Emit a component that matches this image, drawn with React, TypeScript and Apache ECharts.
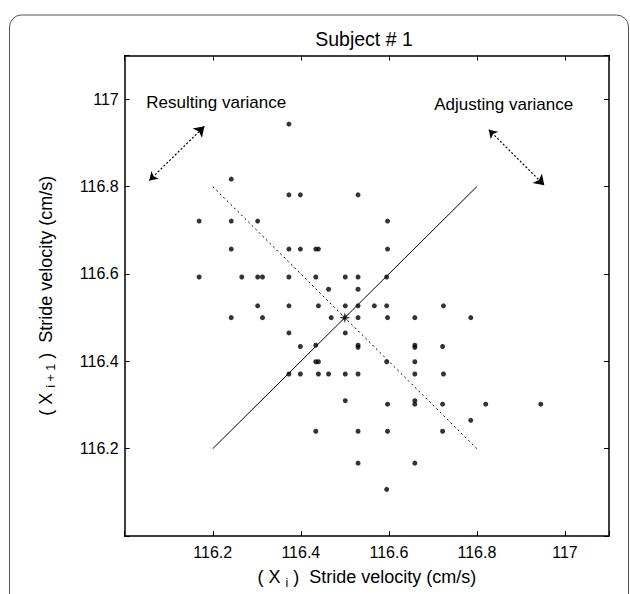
import React, { useEffect, useRef } from "react";
import * as echarts from "echarts";

// Stride velocity at stride i (x) and stride i+1 (y), cm/s
const strideXi: number[] = [
  116.373, 116.242, 116.373, 116.399, 116.530, 116.597, 116.169, 116.242, 116.302, 116.242,
  116.373, 116.399, 116.434, 116.440, 116.597, 116.169, 116.266, 116.302, 116.313, 116.373,
  116.434, 116.501, 116.530, 116.595, 116.463, 116.530, 116.302, 116.373, 116.440, 116.501,
  116.530, 116.567, 116.595, 116.724, 116.242, 116.313, 116.469, 116.530, 116.597, 116.659,
  116.786, 116.373, 116.501, 116.399, 116.434, 116.530, 116.530, 116.659, 116.659, 116.722,
  116.434, 116.440, 116.595, 116.659, 116.373, 116.399, 116.440, 116.463, 116.501, 116.530,
  116.659, 116.724, 116.501, 116.597, 116.659, 116.659, 116.722, 116.820, 116.945, 116.786,
  116.434, 116.530, 116.597, 116.722, 116.530, 116.659, 116.595,
];
const strideXi1: number[] = [
  116.943, 116.817, 116.781, 116.781, 116.781, 116.721, 116.721, 116.721, 116.721, 116.657,
  116.657, 116.657, 116.657, 116.657, 116.657, 116.593, 116.593, 116.593, 116.593, 116.593,
  116.593, 116.593, 116.593, 116.593, 116.565, 116.565, 116.527, 116.527, 116.527, 116.527,
  116.527, 116.527, 116.527, 116.527, 116.500, 116.500, 116.500, 116.500, 116.500, 116.500,
  116.500, 116.465, 116.465, 116.434, 116.437, 116.437, 116.432, 116.437, 116.432, 116.434,
  116.399, 116.399, 116.399, 116.399, 116.371, 116.371, 116.371, 116.371, 116.371, 116.371,
  116.371, 116.371, 116.310, 116.302, 116.310, 116.302, 116.302, 116.302, 116.302, 116.265,
  116.240, 116.240, 116.240, 116.240, 116.167, 116.167, 116.107,
];
const meanPoint: number[] = [116.5, 116.5];

// Identity-direction (solid) and perpendicular (dotted) lines
const identityLine: number[][] = [[116.2, 116.2], [116.8, 116.8]];
const perpLine: number[][] = [[116.2, 116.8], [116.8, 116.2]];

// Double arrows
const resultingArrow: number[][] = [[116.056, 116.814], [116.181, 116.938]];
const adjustingArrow: number[][] = [[116.827, 116.930], [116.953, 116.803]];

// Annotations
const annotationNames: string[] = ["Resulting variance", "Adjusting variance"];
const annotationPos: number[][] = [[116.048, 116.993], [116.702, 116.988]];

const axisMin = 116.0;
const axisMax = 117.1;
const tickStep = 0.2;

const FONT = "Liberation Sans, Arial, Helvetica, sans-serif";

const fmt = (v: number) => {
  if (Math.abs(v - axisMin) < 1e-6 || Math.abs(v - axisMax) < 1e-6) return "";
  return String(Number(v.toFixed(1)));
};

export default function App() {
  const ref = useRef<HTMLDivElement>(null);
  useEffect(() => {
    if (!ref.current) return;
    const chart = echarts.init(ref.current, null, { renderer: "svg" });
    const points = strideXi.map((x, i) => [x, strideXi1[i]]);
    const axisLine = { show: true, onZero: false, lineStyle: { color: "#000", width: 1.5 } };
    const tick = { show: true, inside: true, length: 5, lineStyle: { color: "#000", width: 1 } };
    const nameStyle = {
      fontSize: 18,
      color: "#000",
      fontFamily: FONT,
      lineHeight: 24,
      rich: {
        sub: { fontSize: 12.5, lineHeight: 14, verticalAlign: "bottom", fontFamily: FONT, color: "#000" },
      },
    };
    const option: any = {
      animation: false,
      grid: { left: 124.7, top: 55.5, right: 21, bottom: 53.3, containLabel: false },
      xAxis: [
        {
          type: "value",
          min: axisMin,
          max: axisMax,
          interval: tickStep,
          position: "bottom",
          axisLine,
          axisTick: tick,
          splitLine: { show: false },
          axisLabel: { formatter: fmt, fontSize: 16, color: "#000", fontFamily: FONT, margin: 8 },
          name: "( X {sub|i} )  Stride velocity (cm/s)",
          nameLocation: "middle",
          nameGap: 17,
          nameTextStyle: nameStyle,
        },
        {
          type: "value",
          min: axisMin,
          max: axisMax,
          interval: tickStep,
          position: "top",
          axisLine,
          axisTick: tick,
          splitLine: { show: false },
          axisLabel: { show: false },
        },
      ],
      yAxis: [
        {
          type: "value",
          min: axisMin,
          max: axisMax,
          interval: tickStep,
          position: "left",
          axisLine,
          axisTick: tick,
          splitLine: { show: false },
          axisLabel: { formatter: fmt, fontSize: 16, color: "#000", fontFamily: FONT, margin: 6 },
          name: "( X {sub|i + 1} )  Stride velocity (cm/s)",
          nameLocation: "middle",
          nameGap: 67,
          nameTextStyle: nameStyle,
        },
        {
          type: "value",
          min: axisMin,
          max: axisMax,
          interval: tickStep,
          position: "right",
          axisLine,
          axisTick: tick,
          splitLine: { show: false },
          axisLabel: { show: false },
        },
      ],
      series: [
        {
          type: "line",
          data: identityLine,
          symbol: "none",
          lineStyle: { color: "#000", width: 1 },
          silent: true,
          z: 2,
        },
        {
          type: "line",
          data: perpLine,
          symbol: "none",
          lineStyle: { color: "#000", width: 1, type: [2, 3] },
          silent: true,
          z: 2,
        },
        {
          type: "scatter",
          data: points,
          symbol: "circle",
          symbolSize: 5,
          itemStyle: { color: "#000" },
          silent: true,
          z: 3,
        },
        {
          type: "scatter",
          data: [meanPoint],
          symbol:
            "path://M5,0 L6,3.6 L8.5,1.5 L6.4,4 L10,5 L6.4,6 L8.5,8.5 L6,6.4 L5,10 L4,6.4 L1.5,8.5 L3.6,6 L0,5 L3.6,4 L1.5,1.5 L4,3.6 Z",
          symbolSize: 11,
          itemStyle: { color: "#000" },
          silent: true,
          z: 4,
        },
        {
          type: "lines",
          coordinateSystem: "cartesian2d",
          data: [{ coords: resultingArrow }, { coords: adjustingArrow }],
          symbol: ["arrow", "arrow"],
          symbolSize: [8, 10],
          lineStyle: { color: "#000", width: 1.2, type: [2, 2], opacity: 1 },
          silent: true,
          z: 3,
        },
        {
          type: "scatter",
          data: annotationNames.map((n, i) => ({ name: n, value: annotationPos[i] })),
          symbolSize: 1,
          itemStyle: { color: "rgba(0,0,0,0)" },
          label: {
            show: true,
            position: "right",
            distance: 0,
            formatter: "{b}",
            fontSize: 17,
            color: "#000",
            opacity: 1,
            fontFamily: FONT,
            align: "left",
            verticalAlign: "middle",
          },
          silent: true,
          z: 5,
        },
      ],
      graphic: [
        {
          type: "rect",
          shape: { x: 9.5, y: 15, width: 619, height: 640, r: 12 },
          style: { fill: "none", stroke: "#555", lineWidth: 1 },
          silent: true,
        },
        {
          type: "text",
          x: 364,
          y: 39,
          style: {
            text: "Subject # 1",
            fontSize: 19.5,
            fontFamily: FONT,
            fill: "#000",
            textAlign: "center",
            textVerticalAlign: "middle",
          },
          silent: true,
        },
      ],
    };
    chart.setOption(option);
    return () => chart.dispose();
  }, []);
  return (
    <div
      ref={ref}
      style={{ position: "fixed", left: 0, top: 0, width: 630, height: 594, background: "#fff" }}
    />
  );
}
